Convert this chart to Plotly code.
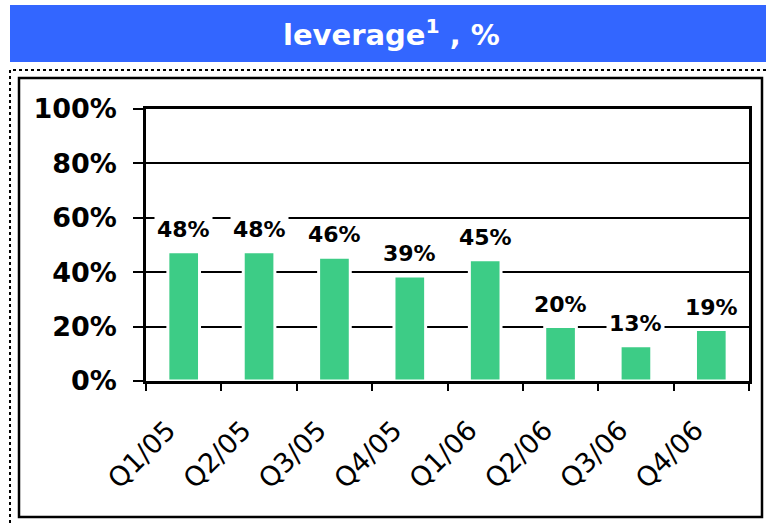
import plotly.graph_objects as go

categories = ["Q1/05", "Q2/05", "Q3/05", "Q4/05", "Q1/06", "Q2/06", "Q3/06", "Q4/06"]
leverage = [47.5, 47.5, 45.5, 38.6, 44.6, 20.0, 13.0, 18.9]
labels = ["48%", "48%", "46%", "39%", "45%", "20%", "13%", "19%"]
y_ticks = [0, 20, 40, 60, 80, 100]
y_ticktext = ["0%", "20%", "40%", "60%", "80%", "100%"]

W, H = 766, 525
L, R, T, B = 146, 17, 109, 144
pw, ph = W - L - R, H - T - B


def px(x):
    return (x - L) / pw


def py(y):
    return (H - B - y) / ph


fig = go.Figure()
fig.add_trace(go.Bar(
    x=categories, y=leverage,
    width=0.42,
    marker=dict(color="#3DCC86", line=dict(color="white", width=3)),
    hoverinfo="skip",
))

for c, v, t in zip(categories, leverage, labels):
    fig.add_annotation(
        x=c, y=v, text=t, showarrow=False, yanchor="bottom", yshift=7,
        bgcolor="white", borderpad=2,
        font=dict(family="DejaVu Sans", size=22, color="black", weight="bold"),
    )

# title bar
fig.add_shape(type="rect", xref="paper", yref="paper", layer="below",
              x0=px(10), x1=px(767), y0=py(62), y1=py(5),
              fillcolor="#3366FF", line=dict(width=0))
fig.add_annotation(xref="paper", yref="paper", x=px(391), y=py(33),
                   text="leverage<sup>1</sup> , %", showarrow=False,
                   xanchor="center", yanchor="middle",
                   font=dict(family="DejaVu Sans", size=29, color="white", weight="bold"))
# dotted frame
fig.add_shape(type="rect", xref="paper", yref="paper", layer="below",
              x0=px(10), x1=px(800), y0=py(560), y1=py(70),
              line=dict(color="black", width=2, dash="dot"))
# inner solid frame
fig.add_shape(type="rect", xref="paper", yref="paper", layer="below",
              x0=px(19), x1=px(762), y0=py(517), y1=py(78),
              line=dict(color="black", width=2.5))

fig.update_layout(
    width=W, height=H,
    margin=dict(l=L, r=R, t=T, b=B),
    paper_bgcolor="white", plot_bgcolor="white",
    showlegend=False,
    xaxis=dict(
        type="category", tickson="boundaries", ticks="outside", ticklen=7,
        tickwidth=2, tickcolor="black", showline=True, linecolor="black",
        linewidth=2.5, mirror=True, showgrid=False, tickangle=-45,
        ticklabelstandoff=20, ticklabelshift=-16,
        tickfont=dict(family="DejaVu Sans", size=27, color="black"),
    ),
    yaxis=dict(
        range=[0, 100], tickvals=y_ticks, ticktext=y_ticktext,
        ticks="outside", ticklen=10, tickwidth=2, tickcolor="black",
        showline=True, linecolor="black", linewidth=2.5, mirror=True,
        showgrid=True, gridcolor="black", gridwidth=2, zeroline=False,
        ticklabelstandoff=11,
        tickfont=dict(family="DejaVu Sans", size=27, color="black", weight="bold"),
    ),
)

fig.write_html("out.html")
